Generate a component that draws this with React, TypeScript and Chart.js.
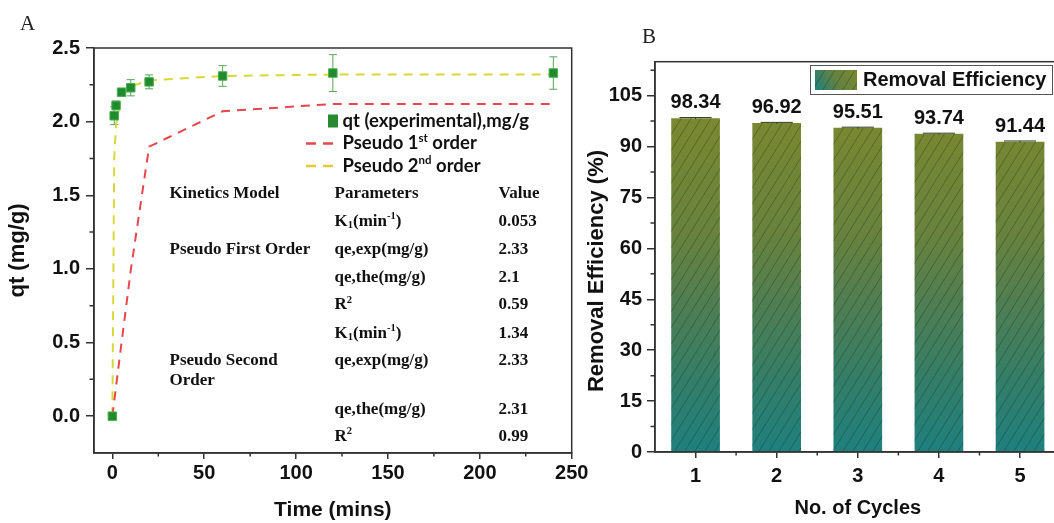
import React, { useEffect, useRef } from 'react';
import { Chart, registerables } from 'chart.js';

Chart.register(...registerables);

// ---------- Panel A data ----------
const timeMin = [0, 1, 2, 5, 10, 20, 60, 120, 240];
const qtExperimental = [0, 2.04, 2.11, 2.2, 2.23, 2.27, 2.31, 2.33, 2.33];
const qtError = [0.01, 0.06, 0.03, 0.02, 0.055, 0.047, 0.07, 0.125, 0.11];
const pseudoFirstOrder = [0, 0.1, 0.2, 0.5, 0.99, 1.83, 2.07, 2.12, 2.12];
const pseudoSecondOrder = [0, 1.75, 1.98, 2.17, 2.24, 2.28, 2.31, 2.32, 2.32];
const timeTicks = [0, 50, 100, 150, 200, 250];
const timeMinorTicks = [25, 75, 125, 175, 225];
const qtTicks = [0, 0.5, 1, 1.5, 2, 2.5];
const qtMinorTicks = [0.25, 0.75, 1.25, 1.75, 2.25];
const legendLabelsA = ['qt (experimental),mg/g', 'Pseudo 1^{st} order', 'Pseudo 2^{nd} order'];

const tableHeader = ['Kinetics Model', 'Parameters', 'Value'];
const kineticsModels = ['Pseudo First Order', 'Pseudo Second', 'Order'];
const kineticsParameters = ['K_{1}(min^{-1})', 'qe,exp(mg/g)', 'qe,the(mg/g)', 'R^{2}', 'K_{1}(min^{-1})', 'qe,exp(mg/g)', 'qe,the(mg/g)', 'R^{2}'];
const kineticsValues = ['0.053', '2.33', '2.1', '0.59', '1.34', '2.33', '2.31', '0.99'];

// ---------- Panel B data ----------
const cycles = ['1', '2', '3', '4', '5'];
const removalEfficiency = [98.34, 96.92, 95.51, 93.74, 91.44];
const efficiencyError = [0.2, 0.2, 0.2, 0.2, 0.2];
const efficiencyTicks = [0, 15, 30, 45, 60, 75, 90, 105];
const efficiencyMinorTicks = [7.5, 22.5, 37.5, 52.5, 67.5, 82.5, 97.5, 112.5];

const SANS = 'Arial, "Liberation Sans", Helvetica, sans-serif';
const SERIF = '"Times New Roman", "Liberation Serif", serif';
const LEGEND_SANS = 'Lato, "Open Sans", sans-serif';
const AXIS = '#333333';
const TXT = '#111111';

function drawRich(ctx: CanvasRenderingContext2D, text: string, x: number, y: number, size: number, family: string, weight: string) {
  const parts = text.split(/(\^\{[^}]*\}|_\{[^}]*\})/).filter(Boolean);
  let cx = x;
  ctx.textAlign = 'left';
  ctx.textBaseline = 'middle';
  for (const p of parts) {
    let t = p;
    let fs = size;
    let dy = 0;
    if (p.startsWith('^{')) { t = p.slice(2, -1); fs = size * 0.62; dy = -size * 0.3; }
    else if (p.startsWith('_{')) { t = p.slice(2, -1); fs = size * 0.62; dy = size * 0.22; }
    ctx.font = `${weight} ${fs}px ${family}`;
    ctx.fillText(t, cx, y + dy);
    cx += ctx.measureText(t).width;
  }
}

function makeMinorTicks(xMinor: number[], yMinor: number[], xLen: number, yLen: number) {
  return {
    id: 'minorTicks',
    afterDraw(chart: any) {
      const { ctx, chartArea, scales } = chart;
      ctx.save();
      ctx.strokeStyle = AXIS;
      ctx.lineWidth = 1.5;
      ctx.beginPath();
      xMinor.forEach((v) => {
        const px = scales.x.getPixelForValue(v);
        ctx.moveTo(px, chartArea.bottom);
        ctx.lineTo(px, chartArea.bottom + xLen);
      });
      yMinor.forEach((v) => {
        const py = scales.y.getPixelForValue(v);
        ctx.moveTo(chartArea.left, py);
        ctx.lineTo(chartArea.left - yLen, py);
      });
      ctx.stroke();
      ctx.restore();
    },
  };
}

const framePlugin = {
  id: 'frame',
  afterDraw(chart: any) {
    const { ctx, chartArea } = chart;
    ctx.save();
    ctx.strokeStyle = AXIS;
    ctx.lineWidth = 1.5;
    ctx.strokeRect(chartArea.left, chartArea.top, chartArea.right - chartArea.left, chartArea.bottom - chartArea.top);
    ctx.restore();
  },
};

function panelLabel(letter: string, x: number, y: number) {
  return {
    id: 'panelLabel' + letter,
    afterDraw(chart: any) {
      const { ctx } = chart;
      ctx.save();
      ctx.fillStyle = '#222';
      ctx.font = `21px ${SERIF}`;
      ctx.textAlign = 'left';
      ctx.textBaseline = 'alphabetic';
      ctx.fillText(letter, x, y);
      ctx.restore();
    },
  };
}

function verticalTitle(text: string, x: number, y: number, size: number) {
  return {
    id: 'vtitle',
    afterDraw(chart: any) {
      const { ctx } = chart;
      ctx.save();
      ctx.translate(x, y);
      ctx.rotate(-Math.PI / 2);
      ctx.fillStyle = TXT;
      ctx.font = `bold ${size}px ${SANS}`;
      ctx.textAlign = 'center';
      ctx.textBaseline = 'middle';
      ctx.fillText(text, 0, 0);
      ctx.restore();
    },
  };
}

const errorBarsA = {
  id: 'errorBarsA',
  beforeDatasetsDraw(chart: any) {
    const { ctx, scales } = chart;
    ctx.save();
    ctx.strokeStyle = '#5aa35e';
    ctx.lineWidth = 1;
    ctx.beginPath();
    timeMin.forEach((t, i) => {
      const px = scales.x.getPixelForValue(t);
      const top = scales.y.getPixelForValue(qtExperimental[i] + qtError[i]);
      const bot = scales.y.getPixelForValue(qtExperimental[i] - qtError[i]);
      ctx.moveTo(px, top); ctx.lineTo(px, bot);
      ctx.moveTo(px - 4, top); ctx.lineTo(px + 4, top);
      ctx.moveTo(px - 4, bot); ctx.lineTo(px + 4, bot);
    });
    ctx.stroke();
    ctx.restore();
  },
};

const legendA = {
  id: 'legendA',
  afterDraw(chart: any) {
    const { ctx } = chart;
    const rows = [121, 143.5, 166];
    const colors = ['#1f8a2e', '#e6474c', '#e8c832'];
    ctx.save();
    rows.forEach((ry, i) => {
      if (i === 0) {
        ctx.fillStyle = '#2a8a32';
        ctx.fillRect(328, ry - 6.5, 10, 13);
      } else {
        ctx.strokeStyle = colors[i];
        ctx.lineWidth = 2.5;
        ctx.beginPath();
        ctx.moveTo(306, ry); ctx.lineTo(316, ry);
        ctx.moveTo(323, ry); ctx.lineTo(333, ry);
        ctx.stroke();
      }
      ctx.fillStyle = TXT;
      drawRich(ctx, legendLabelsA[i], 342.5, ry, 18.5, LEGEND_SANS, 'bold');
    });
    ctx.restore();
  },
};

const tableA = {
  id: 'tableA',
  afterDraw(chart: any) {
    const { ctx } = chart;
    const colX = [169.5, 334.5, 498.5];
    const headerY = 193.5;
    const paramY = [221.7, 249.3, 277.3, 305, 333.3, 360.7, 409.3, 436.7];
    const modelY = [249.3, 360.7, 380.7];
    const fs = 17;
    ctx.save();
    ctx.fillStyle = TXT;
    tableHeader.forEach((h, i) => drawRich(ctx, h, colX[i], headerY, fs, SERIF, 'bold'));
    kineticsModels.forEach((m, i) => drawRich(ctx, m, colX[0], modelY[i], fs, SERIF, 'bold'));
    kineticsParameters.forEach((p, i) => drawRich(ctx, p, colX[1], paramY[i], fs, SERIF, 'bold'));
    kineticsValues.forEach((v, i) => drawRich(ctx, v, colX[2], paramY[i], fs, SERIF, 'bold'));
    ctx.restore();
  },
};

// ---------- Panel B plugins ----------
function barGradient(ctx: CanvasRenderingContext2D, y0: number, y1: number) {
  const g = ctx.createLinearGradient(0, y0, 0, y1);
  g.addColorStop(0, 'rgb(122,136,48)');
  g.addColorStop(0.35, 'rgb(104,130,62)');
  g.addColorStop(0.55, 'rgb(80,126,82)');
  g.addColorStop(0.78, 'rgb(52,126,104)');
  g.addColorStop(1, 'rgb(30,128,126)');
  return g;
}

function hatch(ctx: CanvasRenderingContext2D, left: number, top: number, w: number, h: number) {
  ctx.save();
  ctx.beginPath();
  ctx.rect(left, top, w, h);
  ctx.clip();
  ctx.strokeStyle = 'rgba(25,45,25,0.35)';
  ctx.lineWidth = 1;
  ctx.beginPath();
  const k = 0.62;
  for (let x0 = left - h * k; x0 < left + w; x0 += 10) {
    ctx.moveTo(x0, top + h);
    ctx.lineTo(x0 + h * k, top);
  }
  ctx.stroke();
  ctx.restore();
}

const barDecor = {
  id: 'barDecor',
  afterDatasetsDraw(chart: any) {
    const { ctx, scales } = chart;
    const meta = chart.getDatasetMeta(0);
    meta.data.forEach((bar: any, i: number) => {
      const { x, y, base, width } = bar.getProps(['x', 'y', 'base', 'width'], true);
      hatch(ctx, x - width / 2, y, width, base - y);
      const top = scales.y.getPixelForValue(removalEfficiency[i] + efficiencyError[i]);
      const bot = scales.y.getPixelForValue(removalEfficiency[i] - efficiencyError[i]);
      ctx.save();
      ctx.strokeStyle = '#2d3a18';
      ctx.lineWidth = 1;
      ctx.beginPath();
      ctx.moveTo(x - width * 0.33, top); ctx.lineTo(x + width * 0.33, top);
      ctx.moveTo(x, top); ctx.lineTo(x, bot);
      ctx.stroke();
      ctx.fillStyle = TXT;
      ctx.font = `bold 20px ${SANS}`;
      ctx.textAlign = 'center';
      ctx.textBaseline = 'middle';
      ctx.fillText(removalEfficiency[i].toFixed(2), x, y - 15.5);
      ctx.restore();
    });
  },
};

const legendB = {
  id: 'legendB',
  afterDraw(chart: any) {
    const { ctx } = chart;
    ctx.save();
    ctx.fillStyle = '#fff';
    ctx.fillRect(226, 65, 242, 29);
    ctx.strokeStyle = '#555';
    ctx.lineWidth = 1;
    ctx.strokeRect(226.5, 65.5, 242, 29);
    const g = ctx.createLinearGradient(273, 70, 231, 90);
    g.addColorStop(0, 'rgb(122,136,48)');
    g.addColorStop(0.5, 'rgb(100,130,64)');
    g.addColorStop(1, 'rgb(30,128,126)');
    ctx.fillStyle = g;
    ctx.fillRect(231, 70, 42, 20);
    hatch(ctx, 231, 70, 42, 20);
    ctx.fillStyle = TXT;
    ctx.font = `bold 20px ${SANS}`;
    ctx.textAlign = 'left';
    ctx.textBaseline = 'middle';
    ctx.fillText('Removal Efficiency', 279, 80.5);
    ctx.restore();
  },
};

const tickFont = { family: SANS, size: 20, weight: 'bold' as const };
const titleFontX = { family: SANS, size: 21, weight: 'bold' as const };
const titleFontY = { family: SANS, size: 22, weight: 'bold' as const };

export default function App() {
  const refA = useRef<HTMLCanvasElement>(null);
  const refB = useRef<HTMLCanvasElement>(null);

  useEffect(() => {
    const chartA = new Chart(refA.current as HTMLCanvasElement, {
      type: 'line',
      data: {
        datasets: [
          {
            label: legendLabelsA[0],
            data: timeMin.map((t, i) => ({ x: t, y: qtExperimental[i] })),
            showLine: false,
            pointStyle: 'rect',
            pointRadius: 6,
            backgroundColor: '#1f8a2e',
            borderColor: '#4caf50',
            borderWidth: 1,
          },
          {
            label: 'Pseudo 1st order',
            data: timeMin.map((t, i) => ({ x: t, y: pseudoFirstOrder[i] })),
            borderColor: '#e6474c',
            borderDash: [9, 7],
            borderWidth: 2,
            pointRadius: 0,
            fill: false,
            tension: 0,
          },
          {
            label: 'Pseudo 2nd order',
            data: timeMin.map((t, i) => ({ x: t, y: pseudoSecondOrder[i] })),
            borderColor: '#d8d83a',
            borderDash: [9, 7],
            borderWidth: 2,
            pointRadius: 0,
            fill: false,
            tension: 0,
          },
        ],
      },
      options: {
        animation: false,
        responsive: false,
        maintainAspectRatio: false,
        layout: { padding: { left: 0, top: 48, right: 28.3, bottom: 0 } },
        plugins: { legend: { display: false }, tooltip: { enabled: false } },
        scales: {
          x: {
            type: 'linear',
            min: -10,
            max: 250,
            afterBuildTicks: (s: any) => { s.ticks = timeTicks.map((v) => ({ value: v })); },
            afterFit: (s: any) => { s.height = 70; },
            grid: { display: true, drawOnChartArea: false, drawTicks: true, tickLength: 6, color: AXIS, lineWidth: 1.5 },
            border: { display: true, color: AXIS, width: 1.5 },
            ticks: { font: tickFont, color: TXT, padding: 2, maxRotation: 0, autoSkip: false },
            title: { display: true, text: 'Time (mins)', font: titleFontX, color: TXT, padding: { top: 0, bottom: 0 } },
          },
          y: {
            type: 'linear',
            min: -0.25,
            max: 2.5,
            afterBuildTicks: (s: any) => { s.ticks = qtTicks.map((v) => ({ value: v })); },
            afterFit: (s: any) => { s.width = 94; },
            grid: { display: true, drawOnChartArea: false, drawTicks: true, tickLength: 8, color: AXIS, lineWidth: 1.5 },
            border: { display: true, color: AXIS, width: 1.5 },
            ticks: { font: tickFont, color: TXT, padding: 6, callback: (v: any) => Number(v).toFixed(1) },
            title: { display: true, text: 'qt (mg/g)', font: titleFontY, color: TXT, padding: { top: 5, bottom: 0 } },
          },
        },
      },
      plugins: [errorBarsA, makeMinorTicks(timeMinorTicks, qtMinorTicks, 3.5, 4.5), framePlugin, legendA, tableA, panelLabel('A', 20, 30)],
    } as any);

    const chartB = new Chart(refB.current as HTMLCanvasElement, {
      type: 'bar',
      data: {
        labels: cycles,
        datasets: [
          {
            label: 'Removal Efficiency',
            data: removalEfficiency,
            backgroundColor: (c: any) => {
              const { chart } = c;
              if (!chart.chartArea) return 'rgb(80,126,82)';
              const ys = chart.scales.y;
              return barGradient(chart.ctx, ys.getPixelForValue(98), ys.getPixelForValue(0));
            },
            borderWidth: 0,
            barPercentage: 0.6,
            categoryPercentage: 1,
          },
        ],
      },
      options: {
        animation: false,
        responsive: false,
        maintainAspectRatio: false,
        layout: { padding: { left: 0, top: 61.7, right: 8.4, bottom: 0 } },
        plugins: { legend: { display: false }, tooltip: { enabled: false } },
        scales: {
          x: {
            afterFit: (s: any) => { s.height = 71; },
            grid: { display: true, offset: false, drawOnChartArea: false, drawTicks: true, tickLength: 6, color: AXIS, lineWidth: 1.5 },
            border: { display: true, color: AXIS, width: 1.5 },
            ticks: { font: tickFont, color: TXT, padding: 6.5, maxRotation: 0 },
            title: { display: true, text: 'No. of Cycles', font: tickFont, color: TXT, padding: { top: 0, bottom: 3 } },
          },
          y: {
            min: 0,
            max: 115,
            afterBuildTicks: (s: any) => { s.ticks = efficiencyTicks.map((v) => ({ value: v })); },
            afterFit: (s: any) => { s.width = 71; },
            grid: { display: true, drawOnChartArea: false, drawTicks: true, tickLength: 8, color: AXIS, lineWidth: 1.5 },
            border: { display: true, color: AXIS, width: 1.5 },
            ticks: { font: tickFont, color: TXT, padding: 5 },
            title: { display: false },
          },
        },
      },
      plugins: [barDecor, makeMinorTicks(cycles.slice(1).map((_, i) => i + 0.5), efficiencyMinorTicks, 3.5, 4.5), framePlugin, legendB, panelLabel('B', 58, 43), verticalTitle('Removal Efficiency (%)', 13, 271, 22)],
    } as any);

    return () => {
      chartA.destroy();
      chartB.destroy();
    };
  }, []);

  return (
    <div style={{ position: 'fixed', left: 0, top: 0, width: 1054, height: 523, overflow: 'hidden', background: '#fff' }}>
      <canvas ref={refA} width={600} height={523} style={{ position: 'absolute', left: 0, top: 0, width: 600, height: 523 }} />
      <canvas ref={refB} width={485} height={523} style={{ position: 'absolute', left: 584, top: 0, width: 485, height: 523 }} />
    </div>
  );
}
